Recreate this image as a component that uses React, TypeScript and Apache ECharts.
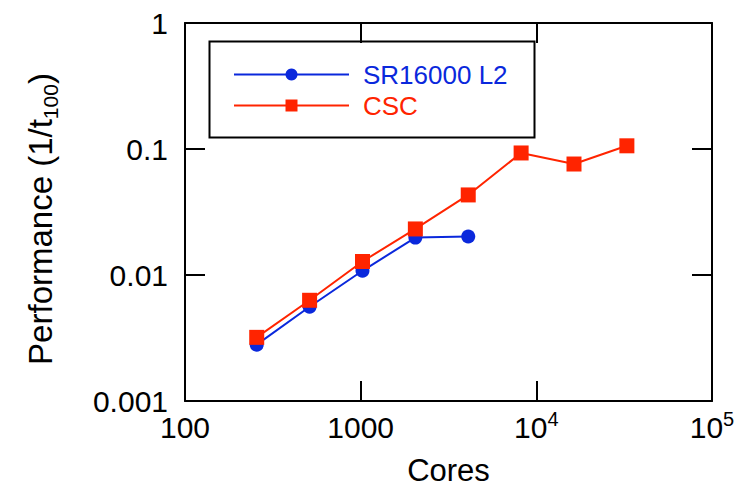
import React, { useEffect, useRef } from "react";
import * as echarts from "echarts";

const cores = [256, 512, 1024, 2048, 4096, 8192, 16384, 32768];
const sr16000 = [0.0028, 0.0056, 0.0108, 0.0198, 0.0202];
const csc = [0.0032, 0.0063, 0.0128, 0.0232, 0.0432, 0.093, 0.076, 0.106];
const seriesNames = ["SR16000 L2", "CSC"];
const xTicks = [100, 1000, 10000, 100000];
const yTicks = [0.001, 0.01, 0.1, 1];

const BLUE = "#0a28dc";
const RED = "#ff2400";
const FONT = "Liberation Sans, Arial, sans-serif";

function fmtX(v: number): string {
  const found = xTicks.find((t) => Math.abs(Math.log10(t) - Math.log10(v)) < 1e-6);
  if (found === undefined) return "";
  if (found >= 10000) return "10{sup|" + Math.round(Math.log10(found)) + "}";
  return String(found);
}
function fmtY(v: number): string {
  const found = yTicks.find((t) => Math.abs(Math.log10(t) - Math.log10(v)) < 1e-6);
  return found !== undefined ? String(found) : "";
}

export default function App() {
  const ref = useRef<HTMLDivElement>(null);
  useEffect(() => {
    if (!ref.current) return;
    const chart = echarts.init(ref.current, undefined, { renderer: "svg" });
    const axisLine = { show: true, lineStyle: { color: "#000", width: 2 } };
    const tick = { show: true, inside: true, length: 20, lineStyle: { color: "#000", width: 2 } };
    chart.setOption({
      animation: false,
      backgroundColor: "#fff",
      grid: { left: 185, right: 27, top: 23, bottom: 87, outerBoundsMode: "none", containLabel: false },
      xAxis: [
        {
          type: "log",
          logBase: 10,
          min: 100,
          max: 100000,
          position: "bottom",
          name: "Cores",
          nameLocation: "middle",
          nameGap: 55,
          nameTextStyle: { fontSize: 31, lineHeight: 28, color: "#000", fontFamily: FONT },
          axisLine,
          axisTick: tick,
          minorTick: { show: false },
          splitLine: { show: false },
          axisLabel: {
            formatter: fmtX,
            fontSize: 30,
            color: "#000",
            fontFamily: FONT,
            margin: 8,
            lineHeight: 36,
            rich: {
              sup: { fontSize: 20, lineHeight: 20, verticalAlign: "top", color: "#000", fontFamily: FONT },
            },
          },
        },
        {
          type: "log",
          logBase: 10,
          min: 100,
          max: 100000,
          position: "top",
          axisLine,
          axisTick: tick,
          axisLabel: { show: false },
          splitLine: { show: false },
        },
      ],
      yAxis: [
        {
          type: "log",
          logBase: 10,
          min: 0.001,
          max: 1,
          position: "left",
          name: "Performance (1/t{sub|100})",
          nameLocation: "middle",
          nameGap: 124,
          nameTextStyle: {
            fontSize: 33,
            color: "#000",
            fontFamily: FONT,
            lineHeight: 42,
            padding: [0, 14, 0, 0],
            rich: {
              sub: { fontSize: 21, lineHeight: 20, verticalAlign: "bottom", color: "#000", fontFamily: FONT },
            },
          },
          axisLine,
          axisTick: tick,
          splitLine: { show: false },
          axisLabel: { formatter: fmtY, fontSize: 30, color: "#000", fontFamily: FONT, margin: 17 },
        },
        {
          type: "log",
          logBase: 10,
          min: 0.001,
          max: 1,
          position: "right",
          axisLine,
          axisTick: tick,
          axisLabel: { show: false },
          splitLine: { show: false },
        },
      ],
      legend: {
        orient: "vertical",
        left: 233,
        top: 60,
        padding: 0,
        itemWidth: 115,
        itemHeight: 15,
        itemGap: 2,
        data: [
          { name: seriesNames[0], textStyle: { color: BLUE } },
          { name: seriesNames[1], textStyle: { color: RED } },
        ],
        textStyle: { fontSize: 26, fontFamily: FONT, lineHeight: 29, padding: [0, 0, 0, 9] },
      },
      graphic: [
        {
          type: "rect",
          left: 207,
          top: 39,
          shape: { width: 325, height: 96 },
          style: { fill: "none", stroke: "#000", lineWidth: 2 },
          z: 10,
        },
      ],
      series: [
        {
          name: seriesNames[0],
          type: "line",
          data: sr16000.map((v, i) => [cores[i], v]),
          symbol: "circle",
          symbolSize: 14,
          itemStyle: { color: BLUE },
          lineStyle: { color: BLUE, width: 2 },
          z: 2,
        },
        {
          name: seriesNames[1],
          type: "line",
          data: csc.map((v, i) => [cores[i], v]),
          symbol: "rect",
          symbolSize: 15,
          itemStyle: { color: RED },
          lineStyle: { color: RED, width: 2 },
          z: 3,
        },
      ],
    });
    return () => chart.dispose();
  }, []);
  return <div ref={ref} style={{ width: 739, height: 488, position: "absolute", left: 0, top: 0 }} />;
}
